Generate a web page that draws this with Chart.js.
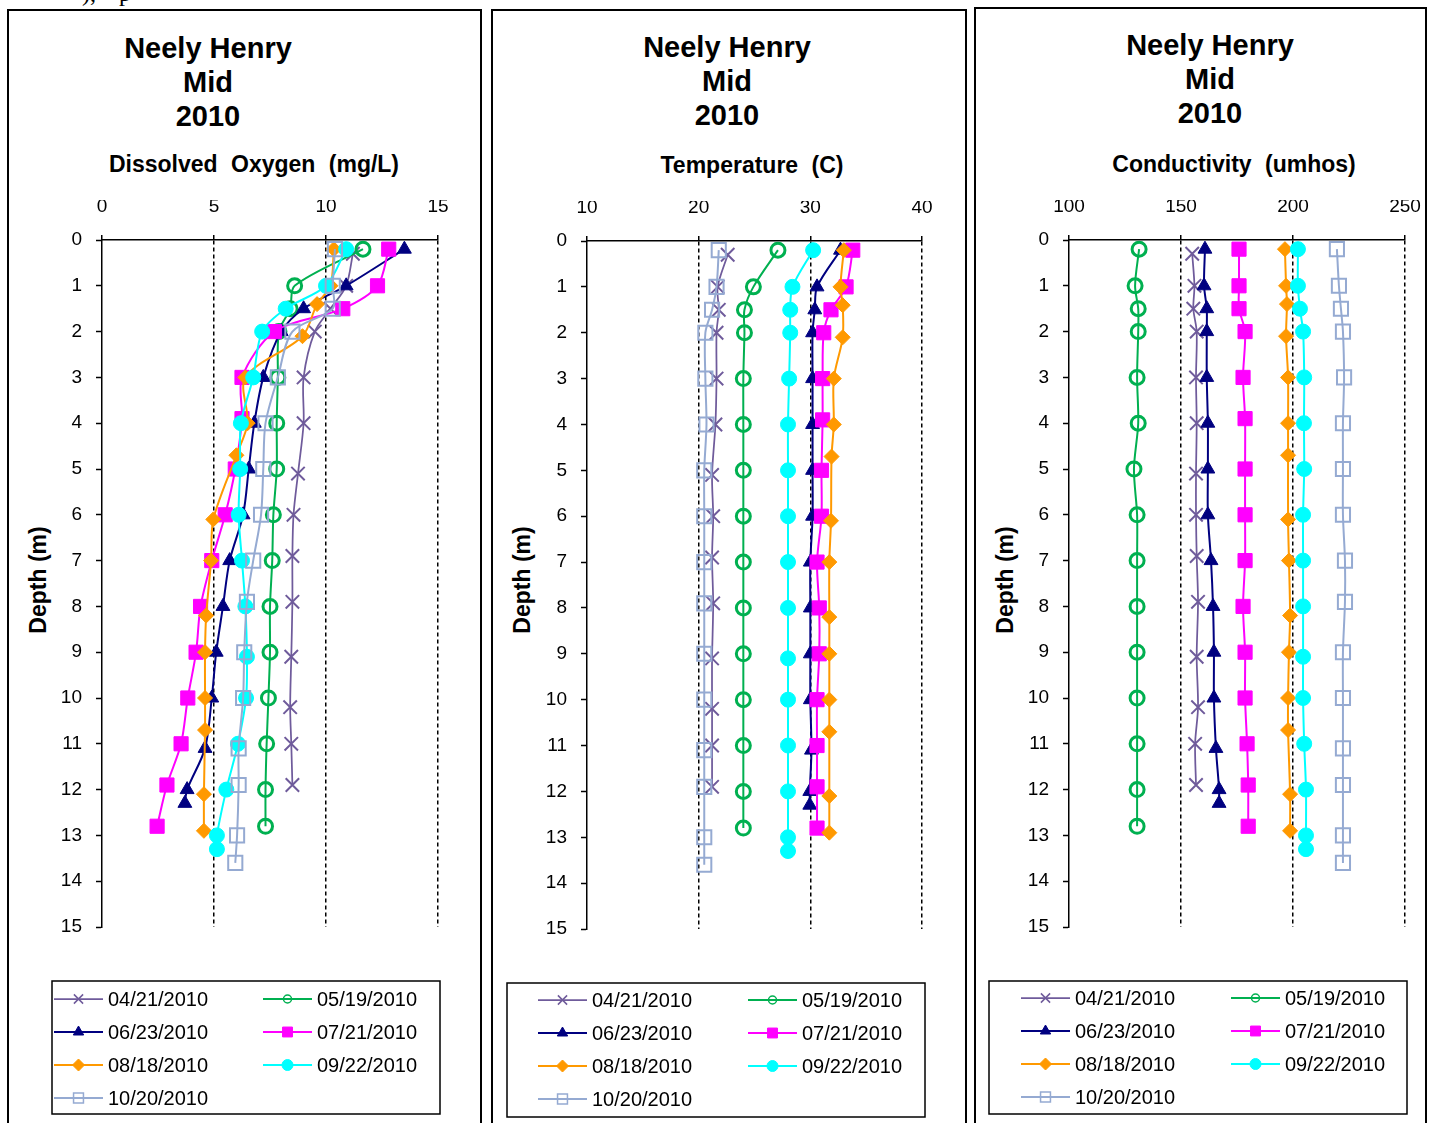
<!DOCTYPE html>
<html>
<head>
<meta charset="utf-8">
<script src="https://cdn.jsdelivr.net/npm/chart.js@4.4.1/dist/chart.umd.min.js"></script>
<style>
  body { margin: 0; width: 1431px; height: 1123px; overflow: hidden; position: relative; background: #fff; color: #000;
         font-family: "Liberation Sans", Arial, sans-serif; }
  .frame { position: absolute; border: 2px solid #000; box-sizing: border-box; }
  .plot { position: absolute; }
  .head { position: absolute; width: 400px; text-align: center; font-weight: bold; font-size: 29px; line-height: 34px; }
  .axis-name { position: absolute; width: 400px; text-align: center; font-weight: bold; font-size: 23px; line-height: 28px; word-spacing: 7px; }
  .depth { position: absolute; width: 200px; text-align: center; font-weight: bold; font-size: 23px; line-height: 28px; transform: rotate(-90deg); }
  .scrap { position: absolute; top: -19px; font-family: "Liberation Serif", serif; font-size: 24px; line-height: 24px; }
</style>
</head>
<body>
<div class="scrap" style="left:82px">),</div>
<div class="scrap" style="left:119px">p</div>

<div class="frame" style="left:7px;top:9px;width:475px;height:1130px"></div>
<div class="frame" style="left:491px;top:9px;width:476px;height:1130px"></div>
<div class="frame" style="left:974px;top:7px;width:453px;height:1130px"></div>

<div class="head" style="left:8px;top:31px">Neely Henry<br>Mid<br>2010</div>
<div class="head" style="left:527px;top:30px">Neely Henry<br>Mid<br>2010</div>
<div class="head" style="left:1010px;top:28px">Neely Henry<br>Mid<br>2010</div>

<div class="axis-name" style="left:54px;top:150px">Dissolved Oxygen (mg/L)</div>
<div class="axis-name" style="left:552px;top:151px">Temperature (C)</div>
<div class="axis-name" style="left:1034px;top:150px">Conductivity (umhos)</div>

<div class="depth" style="left:-62px;top:566px">Depth (m)</div>
<div class="depth" style="left:422px;top:566px">Depth (m)</div>
<div class="depth" style="left:905px;top:566px">Depth (m)</div>

<canvas id="chartDO" class="plot" width="473" height="1113" style="left:8px;top:10px"></canvas>
<canvas id="chartTemp" class="plot" width="474" height="1113" style="left:492px;top:10px"></canvas>
<canvas id="chartCond" class="plot" width="450" height="1115" style="left:975px;top:8px"></canvas>

<script>
// sampling dates
var dates = ['04/21/2010', '05/19/2010', '06/23/2010', '07/21/2010', '08/18/2010', '09/22/2010', '10/20/2010'];

// depths (m) for each profile
var depth0421 = [0.3, 1.0, 1.5, 2.0, 3.0, 4.0, 5.1, 6.0, 6.9, 7.9, 9.1, 10.2, 11.0, 11.9];
var depth0519 = [0.2, 1.0, 1.5, 2.0, 3.0, 4.0, 5.0, 6.0, 7.0, 8.0, 9.0, 10.0, 11.0, 12.0, 12.8];
var depth0623 = [0.2, 1.0, 1.5, 2.0, 3.0, 4.0, 5.0, 6.0, 7.0, 8.0, 9.0, 10.0, 11.1, 12.0, 12.3];
var depth0721 = [0.2, 1.0, 1.5, 2.0, 3.0, 3.9, 5.0, 6.0, 7.0, 8.0, 9.0, 10.0, 11.0, 11.9, 12.8];
var depth0818 = [0.2, 1.0, 1.4, 2.1, 3.0, 4.0, 4.7, 6.1, 7.0, 8.2, 9.0, 10.0, 10.7, 12.1, 12.9];
var depth0922 = [0.2, 1.0, 1.5, 2.0, 3.0, 4.0, 5.0, 6.0, 7.0, 8.0, 9.1, 10.0, 11.0, 12.0, 13.0, 13.3];
var depth1020 = [0.2, 1.0, 1.5, 2.0, 3.0, 4.0, 5.0, 6.0, 7.0, 7.9, 9.0, 10.0, 11.1, 11.9, 13.0, 13.6];

// dissolved oxygen (mg/L)
var do0421 = [11.2, 10.9, 10.2, 9.5, 9.0, 9.0, 8.75, 8.55, 8.5, 8.5, 8.45, 8.4, 8.45, 8.5];
var do0519 = [11.65, 8.6, 8.4, 7.9, 7.85, 7.8, 7.8, 7.65, 7.6, 7.5, 7.5, 7.43, 7.35, 7.3, 7.3];
var do0623 = [13.5, 10.9, 9.0, 8.0, 7.2, 6.8, 6.55, 6.3, 5.7, 5.4, 5.1, 4.9, 4.6, 3.8, 3.7];
var do0721 = [12.8, 12.3, 10.75, 7.7, 6.25, 6.25, 5.95, 5.5, 4.9, 4.4, 4.2, 3.83, 3.53, 2.9, 2.46];
var do0818 = [10.35, 10.2, 9.6, 8.95, 6.4, 6.5, 6.0, 4.97, 4.87, 4.65, 4.6, 4.6, 4.6, 4.55, 4.55];
var do0922 = [10.9, 10.0, 8.2, 7.15, 6.75, 6.2, 6.17, 6.1, 6.25, 6.4, 6.47, 6.43, 6.07, 5.55, 5.13, 5.13];
var do1020 = [10.4, 10.3, 10.3, 8.5, 7.85, 7.3, 7.2, 7.1, 6.75, 6.47, 6.35, 6.3, 6.1, 6.1, 6.03, 5.95];

// temperature (C)
var temp0421 = [22.6, 21.7, 21.8, 21.6, 21.6, 21.5, 21.2, 21.3, 21.2, 21.3, 21.2, 21.2, 21.2, 21.2];
var temp0519 = [27.1, 24.9, 24.1, 24.1, 24.0, 24.0, 24.0, 24.0, 24.0, 24.0, 24.0, 24.0, 24.0, 24.0, 24.0];
var temp0623 = [32.7, 30.6, 30.4, 30.2, 30.2, 30.2, 30.2, 30.2, 30.0, 30.0, 30.0, 30.0, 30.1, 29.95, 29.95];
var temp0721 = [33.8, 33.2, 31.85, 31.2, 31.1, 31.1, 31.0, 31.0, 30.6, 30.8, 30.8, 30.6, 30.6, 30.6, 30.6];
var temp0818 = [33.0, 32.7, 32.9, 32.9, 32.1, 32.1, 31.9, 31.85, 31.7, 31.7, 31.7, 31.7, 31.7, 31.7, 31.7];
var temp0922 = [30.25, 28.4, 28.2, 28.2, 28.1, 28.0, 28.0, 28.0, 28.0, 28.0, 28.0, 28.0, 28.0, 28.0, 28.0, 28.0];
var temp1020 = [21.8, 21.6, 21.2, 20.6, 20.6, 20.7, 20.5, 20.5, 20.5, 20.5, 20.5, 20.5, 20.5, 20.5, 20.5, 20.5];

// conductivity (umhos)
var cond0421 = [155, 156, 155.5, 157, 156.7, 157, 156.7, 156.7, 157, 157.6, 157, 157.6, 156.3, 156.7];
var cond0519 = [131.3, 129.5, 130.9, 130.9, 130.4, 130.9, 129.0, 130.4, 130.4, 130.4, 130.4, 130.4, 130.4, 130.4, 130.4];
var cond0623 = [160.7, 160.3, 161.5, 161.5, 161.5, 162, 162, 162, 163.4, 164.3, 164.7, 164.7, 165.6, 167, 167];
var cond0721 = [175.9, 175.9, 175.9, 178.6, 177.7, 178.6, 178.6, 178.6, 178.6, 177.7, 178.6, 178.6, 179.5, 180, 180];
var cond0818 = [196.4, 196.9, 197.3, 196.9, 197.8, 197.8, 197.8, 197.8, 198.2, 198.7, 198.2, 197.8, 197.8, 198.7, 198.7];
var cond0922 = [202.2, 202.2, 203.1, 204.5, 205, 204.9, 205, 204.5, 204.5, 204.5, 204.5, 204.5, 205, 205.8, 205.8, 205.8];
var cond1020 = [219.6, 220.5, 221.4, 222.3, 222.8, 222.3, 222.3, 222.3, 223.2, 223.2, 222.3, 222.3, 222.3, 222.3, 222.3, 222.3];

var depths = [depth0421, depth0519, depth0623, depth0721, depth0818, depth0922, depth1020];

// marker / line look per date (same on every panel)
var seriesStyles = [
  { color: '#6F5B9B', pointStyle: 'crossRot', radius: 9.5, fill: '#6F5B9B', pointBorder: 2, lineWidth: 1.75, legendRadius: 6.5 },
  { color: '#00B050', pointStyle: 'circle', radius: 7, fill: 'rgba(0,0,0,0)', pointBorder: 3, lineWidth: 2, legendRadius: 4 },
  { color: '#000080', pointStyle: 'triangle', radius: 8, fill: '#000080', pointBorder: 1, lineWidth: 2, legendRadius: 6 },
  { color: '#FF00FF', pointStyle: 'rect', radius: 10, fill: '#FF00FF', pointBorder: 1, lineWidth: 2, legendRadius: 7 },
  { color: '#FF9900', pointStyle: 'rectRot', radius: 7.5, fill: '#FF9900', pointBorder: 1, lineWidth: 2, legendRadius: 6 },
  { color: '#00FFFF', pointStyle: 'circle', radius: 7.5, fill: '#00FFFF', pointBorder: 1, lineWidth: 2, legendRadius: 5.5 },
  { color: '#95AAD2', pointStyle: 'rect', radius: 10, fill: 'rgba(0,0,0,0)', pointBorder: 2, lineWidth: 2, legendRadius: 7 }
];

var FONT = '"Liberation Sans", Arial, sans-serif';

// legend with a frame, two columns, drawn in the chart canvas
var boxLegend = {
  id: 'boxLegend',
  afterDraw: function (chart, args, opts) {
    var ctx = chart.ctx;
    ctx.save();
    ctx.lineWidth = 1.5;
    ctx.strokeStyle = '#000';
    ctx.strokeRect(opts.x, opts.y, opts.w, opts.h);
    ctx.font = '20px ' + FONT;
    ctx.textBaseline = 'middle';
    ctx.textAlign = 'left';
    chart.data.datasets.forEach(function (ds, i) {
      var st = seriesStyles[i];
      var lx = opts.x + opts.inset + (i % 2) * opts.colGap;
      var ly = opts.y + opts.rowTop + Math.floor(i / 2) * opts.rowGap;
      ctx.strokeStyle = st.color;
      ctx.lineWidth = st.lineWidth;
      ctx.beginPath();
      ctx.moveTo(lx, ly);
      ctx.lineTo(lx + 49, ly);
      ctx.stroke();
      ctx.fillStyle = st.fill;
      ctx.strokeStyle = st.color;
      ctx.lineWidth = Math.min(st.pointBorder, 1.5);
      Chart.helpers.drawPoint(ctx, { pointStyle: st.pointStyle, radius: st.legendRadius, borderWidth: ctx.lineWidth, rotation: 0 }, lx + 24.5, ly);
      ctx.fillStyle = '#000';
      ctx.fillText(ds.label, lx + 54, ly + 1);
    });
    ctx.restore();
  }
};

function buildChart(cfg) {
  var el = document.getElementById(cfg.id);
  var c = cfg.canvas;
  var area = cfg.area;
  var xHeight = 40;

  var datasets = dates.map(function (label, i) {
    var st = seriesStyles[i];
    return {
      label: label,
      data: cfg.values[i].map(function (v, k) { return { x: v, y: depths[i][k] }; }),
      showLine: true,
      borderColor: st.color,
      backgroundColor: st.fill,
      borderWidth: st.lineWidth,
      tension: 0.3,
      pointStyle: st.pointStyle,
      pointRadius: st.radius,
      pointHoverRadius: st.radius,
      pointBackgroundColor: st.fill,
      pointBorderColor: st.color,
      pointBorderWidth: st.pointBorder,
      order: dates.length - i,
      clip: false
    };
  });

  var lg = cfg.legend;

  new Chart(el, {
    type: 'scatter',
    data: { datasets: datasets },
    plugins: [boxLegend],
    options: {
      responsive: false,
      animation: false,
      events: [],
      layout: {
        padding: {
          left: 0,
          top: area.t - c.y - xHeight,
          right: c.w - (area.r - c.x),
          bottom: c.h - (area.b - c.y)
        }
      },
      plugins: {
        legend: { display: false },
        tooltip: { enabled: false },
        boxLegend: {
          x: lg.x - c.x, y: lg.y - c.y, w: lg.w, h: lg.h,
          inset: lg.inset, colGap: lg.colGap, rowTop: lg.rowTop, rowGap: lg.rowGap
        }
      },
      scales: {
        x: {
          type: 'linear',
          position: 'top',
          min: cfg.xMin,
          max: cfg.xMax,
          afterFit: function (scale) {
            scale.height = xHeight;
            scale.paddingLeft = 0;
            scale.paddingRight = 0;
          },
          ticks: { stepSize: cfg.xStep, padding: 17, color: '#000', font: { family: FONT, size: 19 } },
          grid: {
            color: function (ctx) { return ctx.tick && ctx.tick.value === cfg.xMin ? 'rgba(0,0,0,0)' : '#000'; },
            lineWidth: 1.5,
            tickLength: 5,
            tickColor: '#000',
            tickWidth: 1.5
          },
          border: { color: '#000', width: 1.5, dash: [4, 3] }
        },
        y: {
          type: 'linear',
          reverse: true,
          min: 0,
          max: 15,
          afterFit: function (scale) {
            scale.width = area.l - c.x;
            scale.paddingTop = 0;
            scale.paddingBottom = 0;
          },
          ticks: { stepSize: 1, padding: 14, color: '#000', font: { family: FONT, size: 19 } },
          grid: { drawOnChartArea: false, tickLength: 6, tickColor: '#000', tickWidth: 1.5 },
          border: { color: '#000', width: 1.5 }
        }
      }
    }
  });
}

function waitForChart(callback) {
  if (typeof Chart !== 'undefined') { callback(); return; }
  window.setTimeout(function () { waitForChart(callback); }, 50);
}

waitForChart(function () {
  buildChart({
    id: 'chartDO',
    canvas: { x: 8, y: 10, w: 473, h: 1113 },
    area: { l: 102, t: 240, r: 438, b: 927 },
    xMin: 0, xMax: 15, xStep: 5,
    values: [do0421, do0519, do0623, do0721, do0818, do0922, do1020],
    legend: { x: 52, y: 981, w: 388, h: 133, inset: 2, colGap: 209, rowTop: 18, rowGap: 33 }
  });
  buildChart({
    id: 'chartTemp',
    canvas: { x: 492, y: 10, w: 474, h: 1113 },
    area: { l: 587, t: 241, r: 922, b: 929 },
    xMin: 10, xMax: 40, xStep: 10,
    values: [temp0421, temp0519, temp0623, temp0721, temp0818, temp0922, temp1020],
    legend: { x: 507, y: 983, w: 418, h: 134, inset: 31, colGap: 210, rowTop: 17, rowGap: 33 }
  });
  buildChart({
    id: 'chartCond',
    canvas: { x: 975, y: 8, w: 450, h: 1115 },
    area: { l: 1069, t: 240, r: 1405, b: 927 },
    xMin: 100, xMax: 250, xStep: 50,
    values: [cond0421, cond0519, cond0623, cond0721, cond0818, cond0922, cond1020],
    legend: { x: 989, y: 981, w: 418, h: 133, inset: 32, colGap: 210, rowTop: 17, rowGap: 33 }
  });
});
</script>
</body>
</html>
